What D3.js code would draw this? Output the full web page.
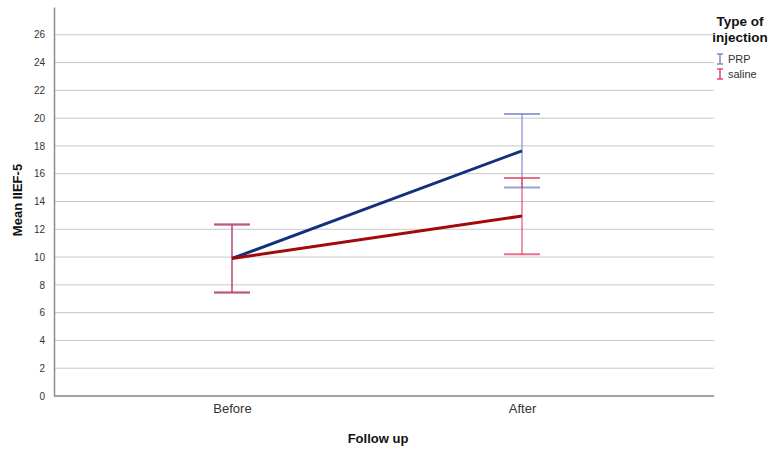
<!DOCTYPE html>
<html>
<head>
<meta charset="utf-8">
<script src="https://cdn.jsdelivr.net/npm/d3@7"></script>
<style>
  body { margin: 0; background: #fff; }
  svg { font-family: Arial, "Liberation Sans", sans-serif; }
</style>
</head>
<body>
<svg width="769" height="452"></svg>
<script>
// data
var categories = ["Before", "After"];
var groups = ["PRP", "saline"];
var means = { PRP: [9.9, 17.65], saline: [9.9, 12.95] };
var lower = { PRP: [7.45, 15.0], saline: [7.45, 10.2] };
var upper = { PRP: [12.35, 20.3], saline: [12.35, 15.7] };
var yTicks = d3.range(0, 27, 2);

var lineColor = { PRP: "#142f7d", saline: "#a10a0a" };
var barColor = { PRP: "#6a7bc0", saline: "#e0305a" };

const svg = d3.select("svg");
var margin = { left: 54, right: 714, top: 7, bottom: 396 };

var y = d3.scaleLinear().domain([0, 28]).range([margin.bottom, margin.top]);
var x = d3.scalePoint().domain(categories).range([232, 522]);

// gridlines
svg.append("g")
  .selectAll("line")
  .data(yTicks)
  .join("line")
    .attr("x1", margin.left)
    .attr("x2", margin.right)
    .attr("y1", d => y(d))
    .attr("y2", d => y(d))
    .attr("stroke", "#c8c8c8")
    .attr("stroke-width", 1);

// y axis
var yAxis = d3.axisLeft(y).tickValues(yTicks).tickSize(0).tickPadding(9);
var yg = svg.append("g")
  .attr("transform", "translate(" + margin.left + ",0)")
  .call(yAxis);
yg.select(".domain").attr("stroke", "#8c8c8c").attr("stroke-width", 1.5);
yg.selectAll("text").attr("font-size", 10).attr("fill", "#333");

// x axis
var xAxis = d3.axisBottom(x).tickSize(0).tickPadding(8);
var xg = svg.append("g")
  .attr("transform", "translate(0," + margin.bottom + ")")
  .call(xAxis);
xg.select(".domain").remove();
xg.append("line")
  .attr("x1", margin.left).attr("x2", margin.right)
  .attr("stroke", "#8c8c8c").attr("stroke-width", 1.5);
xg.selectAll("text").attr("font-size", 13).attr("fill", "#333");

// error bars
var capHalf = 18;
groups.forEach(function(g) {
  var eb = svg.append("g")
    .attr("stroke", barColor[g])
    .attr("stroke-opacity", 0.85);
  categories.forEach(function(c, i) {
    var cx = x(c);
    eb.append("line")
      .attr("x1", cx).attr("x2", cx)
      .attr("y1", y(lower[g][i])).attr("y2", y(upper[g][i]))
      .attr("stroke-width", 1.2);
    [lower[g][i], upper[g][i]].forEach(function(v) {
      eb.append("line")
        .attr("x1", cx - capHalf).attr("x2", cx + capHalf)
        .attr("y1", y(v)).attr("y2", y(v))
        .attr("stroke-width", 2)
        .attr("stroke-opacity", 0.7);
    });
  });
});

// mean lines
var line = d3.line()
  .x((d, i) => x(categories[i]))
  .y(d => y(d));
groups.forEach(function(g) {
  svg.append("path")
    .datum(means[g])
    .attr("d", line)
    .attr("fill", "none")
    .attr("stroke", lineColor[g])
    .attr("stroke-width", 3);
});

// axis titles
svg.append("text")
  .attr("transform", "translate(22," + 200 + ") rotate(-90)")
  .attr("text-anchor", "middle")
  .attr("font-size", 13)
  .attr("font-weight", "bold")
  .attr("fill", "#111")
  .text("Mean IIEF-5");

svg.append("text")
  .attr("x", 378)
  .attr("y", 443)
  .attr("text-anchor", "middle")
  .attr("font-size", 13)
  .attr("font-weight", "bold")
  .attr("fill", "#111")
  .text("Follow up");

// legend
var leg = svg.append("g");
leg.append("text")
  .attr("x", 740).attr("y", 26)
  .attr("text-anchor", "middle")
  .attr("font-size", 13.5).attr("font-weight", "bold").attr("fill", "#111")
  .selectAll("tspan")
  .data(["Type of", "injection"])
  .join("tspan")
    .attr("x", 740)
    .attr("dy", (d, i) => i ? 15.5 : 0)
    .text(d => d);

groups.forEach(function(g, i) {
  var ly = 59 + i * 15;
  var lx = 720;
  var it = leg.append("g").attr("stroke", barColor[g]).attr("stroke-width", 1.3);
  it.append("line").attr("x1", lx).attr("x2", lx).attr("y1", ly - 5).attr("y2", ly + 5);
  it.append("line").attr("x1", lx - 3).attr("x2", lx + 3).attr("y1", ly - 5).attr("y2", ly - 5);
  it.append("line").attr("x1", lx - 3).attr("x2", lx + 3).attr("y1", ly + 5).attr("y2", ly + 5);
  leg.append("text")
    .attr("x", 728).attr("y", ly + 4)
    .attr("font-size", 11).attr("fill", "#333")
    .text(g);
});
</script>
</body>
</html>
